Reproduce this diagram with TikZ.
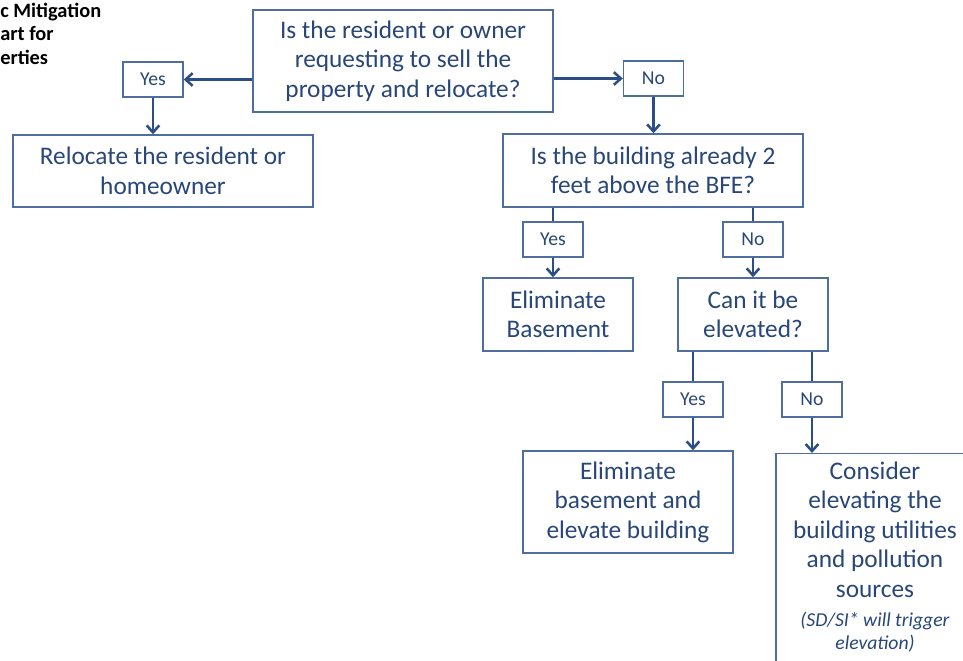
\documentclass[tikz,border=0pt]{standalone}
\usepackage{fontspec}
\setmainfont{Carlito}
\usetikzlibrary{arrows.meta,calc}
\definecolor{boxblue}{RGB}{79,110,160}
\definecolor{txtblue}{RGB}{40,70,120}
\definecolor{arrblue}{RGB}{44,78,135}
\newcommand\noteit{\itshape\fontsize{14}{16.5}\selectfont}

\begin{document}
\begin{tikzpicture}[x=0.025cm,y=-0.025cm,
  box/.style={draw=boxblue, line width=1pt, text=txtblue, align=center, font=\fontsize{18}{21}\selectfont, inner sep=0pt},
  ans/.style={draw=boxblue, line width=1pt, text=txtblue, font=\fontsize{14}{16}\selectfont, minimum width=1.5cm, minimum height=0.875cm, inner sep=0pt},
  arr/.style={draw=arrblue, line width=1.8pt, -{Straight Barb[length=5pt,width=9pt]}},
  lnk/.style={draw=arrblue, line width=1.8pt}]
\useasboundingbox (0,0) rectangle (963,661);
\clip (0,0) rectangle (963,661);
\node[anchor=north west, align=left, font=\bfseries\fontsize{14.5}{16.5}\selectfont, inner sep=0pt] (ttl) at (0,3) {c Mitigation\\art for\\erties};
\node[box, minimum width=7.5cm, minimum height=2.55cm] (q1) at (403,61) {Is the resident or owner\\requesting to sell the\\property and relocate?};
\node[ans] (yes1) at (153,79.5) {Yes};
\node[box, minimum width=7.5cm, minimum height=1.8cm] (reloc) at (163,171) {Relocate the resident or\\homeowner};
\node[ans] (no1) at (653.5,78.5) {No};
\node[box, minimum width=7.5cm, minimum height=1.825cm] (q2) at (653,170.5) {Is the building already 2\\feet above the BFE?};
\node[ans] (yes2) at (553,239.5) {Yes};
\node[ans] (no2) at (753,239.5) {No};
\node[box, minimum width=3.75cm, minimum height=1.825cm] (elim) at (558,314.5) {Eliminate\\Basement};
\node[box, minimum width=3.75cm, minimum height=1.825cm] (q3) at (753,314.5) {Can it be\\elevated?};
\node[ans] (yes3) at (693,399.5) {Yes};
\node[ans] (no3) at (812,399.5) {No};
\node[box, minimum width=5.25cm, minimum height=2.55cm] (elev) at (628,502) {Eliminate\\basement and\\elevate building};
\node[box, anchor=north, minimum width=4.95cm, inner ysep=0.2cm] (cons) at (875,453) {Consider\\elevating the\\building utilities\\and pollution\\sources\\\noteit(SD/SI* will trigger\\[-5pt]\noteit elevation)\\ \mbox{}};
\draw[arr] (yes1.east -| q1.west) -- (yes1.east);
\draw[arr] (yes1.south) -- (yes1.south |- reloc.north);
\draw[arr] (no1.west -| q1.east) -- (no1.west);
\draw[arr] (no1.south) -- (no1.south |- q2.north);
\draw[lnk] (yes2.north |- q2.south) -- (yes2.north);
\draw[arr] (yes2.south) -- (yes2.south |- elim.north);
\draw[lnk] (no2.north |- q2.south) -- (no2.north);
\draw[arr] (no2.south) -- (no2.south |- q3.north);
\draw[lnk] (yes3.north |- q3.south) -- (yes3.north);
\draw[arr] (yes3.south) -- (yes3.south |- elev.north);
\draw[lnk] (no3.north |- q3.south) -- (no3.north);
\draw[arr] (no3.south) -- (no3.south |- cons.north);
\end{tikzpicture}
\end{document}
